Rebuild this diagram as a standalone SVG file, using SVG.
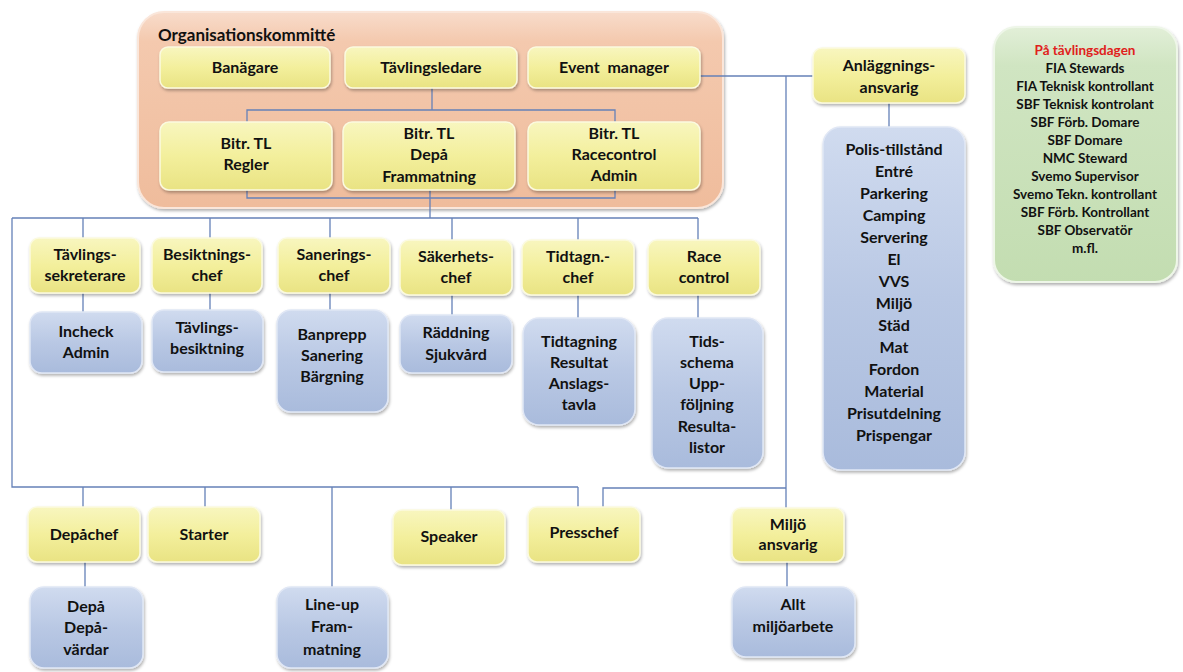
<svg xmlns="http://www.w3.org/2000/svg" width="1183" height="672" viewBox="0 0 1183 672">
<defs>
<linearGradient id="gy" x1="0" y1="0" x2="0" y2="1">
<stop offset="0" stop-color="#f8f6bf"/>
<stop offset="0.5" stop-color="#f3ef9c"/>
<stop offset="1" stop-color="#e9e383"/>
</linearGradient>
<linearGradient id="gb" x1="0" y1="0" x2="0" y2="1">
<stop offset="0" stop-color="#d0dbef"/>
<stop offset="0.5" stop-color="#b9c8e4"/>
<stop offset="1" stop-color="#a9bbdc"/>
</linearGradient>
<linearGradient id="go" x1="0" y1="0" x2="0" y2="1">
<stop offset="0" stop-color="#f8dccb"/>
<stop offset="0.15" stop-color="#f4c9ae"/>
<stop offset="1" stop-color="#efbc9c"/>
</linearGradient>
<linearGradient id="gg" x1="0" y1="0" x2="0" y2="1">
<stop offset="0" stop-color="#e2efd8"/>
<stop offset="0.15" stop-color="#d0e5c2"/>
<stop offset="1" stop-color="#c3ddb1"/>
</linearGradient>
<filter id="sh" x="-10%" y="-10%" width="125%" height="130%">
<feDropShadow dx="1" dy="2" stdDeviation="1.6" flood-color="#000" flood-opacity="0.3"/>
</filter>
</defs>
<style>
.y{fill:url(#gy);stroke:#fbfadf;stroke-width:1.5;filter:url(#sh)}
.b{fill:url(#gb);stroke:#e0e7f5;stroke-width:1.5;filter:url(#sh)}
.o{fill:url(#go);stroke:#fae6da;stroke-width:2;filter:url(#sh)}
.g{fill:url(#gg);stroke:#eef6e8;stroke-width:2;filter:url(#sh)}
text{font-family:Lato,"Open Sans","Liberation Sans",sans-serif;font-weight:700;font-size:16px;fill:#111;text-anchor:middle}
.t{font-size:13.5px}
.r{fill:#e0201b}
.h{text-anchor:start;font-size:17px}
.c{fill:none;stroke:#6581b8;stroke-width:1.3}
</style>
<g id="organisationskommitte">
<rect class="o" x="138" y="12" width="585" height="196" rx="26"/>
<text class="h" x="158" y="41">Organisationskommitté</text>
</g>
<g id="pa-tavlingsdagen">
<rect class="g" x="994" y="27" width="183" height="255" rx="22"/>
<text class="t r" x="1085" y="55">På tävlingsdagen</text>
<text class="t" x="1085" y="73">FIA Stewards</text>
<text class="t" x="1085" y="91">FIA Teknisk kontrollant</text>
<text class="t" x="1085" y="109">SBF Teknisk kontrolant</text>
<text class="t" x="1085" y="127">SBF Förb. Domare</text>
<text class="t" x="1085" y="145">SBF Domare</text>
<text class="t" x="1085" y="163">NMC Steward</text>
<text class="t" x="1085" y="181">Svemo Supervisor</text>
<text class="t" x="1085" y="199">Svemo Tekn. kontrollant</text>
<text class="t" x="1085" y="217">SBF Förb. Kontrollant</text>
<text class="t" x="1085" y="235">SBF Observatör</text>
<text class="t" x="1085" y="253">m.fl.</text>
</g>
<g id="connectors">
<path class="c" d="M700 76H813M786 76V508M889 103V127"/>
<path class="c" d="M432 88V110M247 110H615V198H247ZM430 190V218"/>
<path class="c" d="M12 218H698M12 218V487H578"/>
<path class="c" d="M83 218V238M210 218V238M330 218V238M452 218V240M578 218V240M698 218V240"/>
<path class="c" d="M83 293V312M210 293V310M330 293V310M452 295V315M578 295V318M698 295V318"/>
<path class="c" d="M83 487V507M85 562V587M205 487V507M332 487V587M451 487V510M578 487V507M603 507V488H786M787 562V587"/>
</g>
<g id="banagare"><rect class="y" x="160" y="47" width="170" height="41" rx="8"/><text x="245" y="73">Banägare</text></g>
<g id="tavlingsledare"><rect class="y" x="345" y="47" width="172" height="41" rx="8"/><text x="431" y="73">Tävlingsledare</text></g>
<g id="event-manager"><rect class="y" x="528" y="47" width="172" height="41" rx="8"/><text x="614" y="73" xml:space="preserve">Event  manager</text></g>
<g id="bitr-tl-regler"><rect class="y" x="160" y="122" width="172" height="68" rx="9"/><text x="246" y="149">Bitr. TL</text><text x="246" y="170">Regler</text></g>
<g id="bitr-tl-depa"><rect class="y" x="343" y="122" width="172" height="68" rx="9"/><text x="429" y="139">Bitr. TL</text><text x="429" y="160">Depå</text><text x="429" y="182">Frammatning</text></g>
<g id="bitr-tl-racecontrol"><rect class="y" x="528" y="122" width="172" height="68" rx="9"/><text x="614" y="139">Bitr. TL</text><text x="614" y="160">Racecontrol</text><text x="614" y="181">Admin</text></g>
<g id="anlaggningsansvarig"><rect class="y" x="813" y="48" width="152" height="55" rx="9"/><text x="889" y="71">Anläggnings-</text><text x="889" y="93">ansvarig</text></g>
<g id="anlaggning-lista"><rect class="b" x="823" y="127" width="142" height="343" rx="18"/>
<text x="894" y="155">Polis-tillstånd</text><text x="894" y="177">Entré</text><text x="894" y="199">Parkering</text><text x="894" y="221">Camping</text><text x="894" y="243">Servering</text><text x="894" y="265">El</text><text x="894" y="287">VVS</text><text x="894" y="309">Miljö</text><text x="894" y="331">Städ</text><text x="894" y="353">Mat</text><text x="894" y="375">Fordon</text><text x="894" y="397">Material</text><text x="894" y="419">Prisutdelning</text><text x="894" y="441">Prispengar</text></g>
<g id="tavlingssekreterare"><rect class="y" x="30" y="238" width="110" height="55" rx="9"/><text x="85" y="260">Tävlings-</text><text x="85" y="281">sekreterare</text></g>
<g id="besiktningschef"><rect class="y" x="152" y="238" width="110" height="55" rx="9"/><text x="207" y="260">Besiktnings-</text><text x="207" y="281">chef</text></g>
<g id="saneringschef"><rect class="y" x="278" y="238" width="112" height="55" rx="9"/><text x="334" y="260">Sanerings-</text><text x="334" y="281">chef</text></g>
<g id="sakerhetschef"><rect class="y" x="400" y="240" width="112" height="55" rx="9"/><text x="456" y="262">Säkerhets-</text><text x="456" y="283">chef</text></g>
<g id="tidtagningschef"><rect class="y" x="522" y="240" width="112" height="55" rx="9"/><text x="578" y="262">Tidtagn.-</text><text x="578" y="283">chef</text></g>
<g id="race-control"><rect class="y" x="648" y="240" width="112" height="55" rx="9"/><text x="704" y="262">Race</text><text x="704" y="283">control</text></g>
<g id="incheck"><rect class="b" x="30" y="312" width="112" height="61" rx="12"/><text x="86" y="337">Incheck</text><text x="86" y="358">Admin</text></g>
<g id="tavlingsbesiktning"><rect class="b" x="152" y="310" width="111" height="62" rx="12"/><text x="207" y="333">Tävlings-</text><text x="207" y="354">besiktning</text></g>
<g id="banprepp"><rect class="b" x="277" y="310" width="111" height="102" rx="14"/><text x="332" y="340">Banprepp</text><text x="332" y="361">Sanering</text><text x="332" y="382">Bärgning</text></g>
<g id="raddning"><rect class="b" x="400" y="315" width="112" height="58" rx="12"/><text x="456" y="338">Räddning</text><text x="456" y="360">Sjukvård</text></g>
<g id="tidtagning"><rect class="b" x="523" y="318" width="112" height="107" rx="16"/><text x="579" y="347">Tidtagning</text><text x="579" y="368">Resultat</text><text x="579" y="389">Anslags-</text><text x="579" y="410">tavla</text></g>
<g id="tidsschema"><rect class="b" x="652" y="318" width="111" height="150" rx="16"/><text x="707" y="347">Tids-</text><text x="707" y="368">schema</text><text x="707" y="389">Upp-</text><text x="707" y="410">följning</text><text x="707" y="432">Resulta-</text><text x="707" y="453">listor</text></g>
<g id="depachef"><rect class="y" x="28" y="507" width="112" height="55" rx="9"/><text x="84" y="540">Depåchef</text></g>
<g id="starter"><rect class="y" x="148" y="507" width="112" height="55" rx="9"/><text x="204" y="540">Starter</text></g>
<g id="speaker"><rect class="y" x="393" y="510" width="112" height="55" rx="9"/><text x="449" y="542">Speaker</text></g>
<g id="presschef"><rect class="y" x="528" y="507" width="112" height="55" rx="9"/><text x="584" y="538">Presschef</text></g>
<g id="miljoansvarig"><rect class="y" x="732" y="508" width="112" height="54" rx="9"/><text x="788" y="530">Miljö</text><text x="788" y="550">ansvarig</text></g>
<g id="depa"><rect class="b" x="30" y="587" width="113" height="81" rx="14"/><text x="86" y="612">Depå</text><text x="86" y="633">Depå-</text><text x="86" y="655">värdar</text></g>
<g id="line-up"><rect class="b" x="277" y="587" width="111" height="81" rx="14"/><text x="332" y="610">Line-up</text><text x="332" y="632">Fram-</text><text x="332" y="655">matning</text></g>
<g id="allt-miljoarbete"><rect class="b" x="732" y="587" width="123" height="70" rx="14"/><text x="793" y="610">Allt</text><text x="793" y="632">miljöarbete</text></g>
</svg>
